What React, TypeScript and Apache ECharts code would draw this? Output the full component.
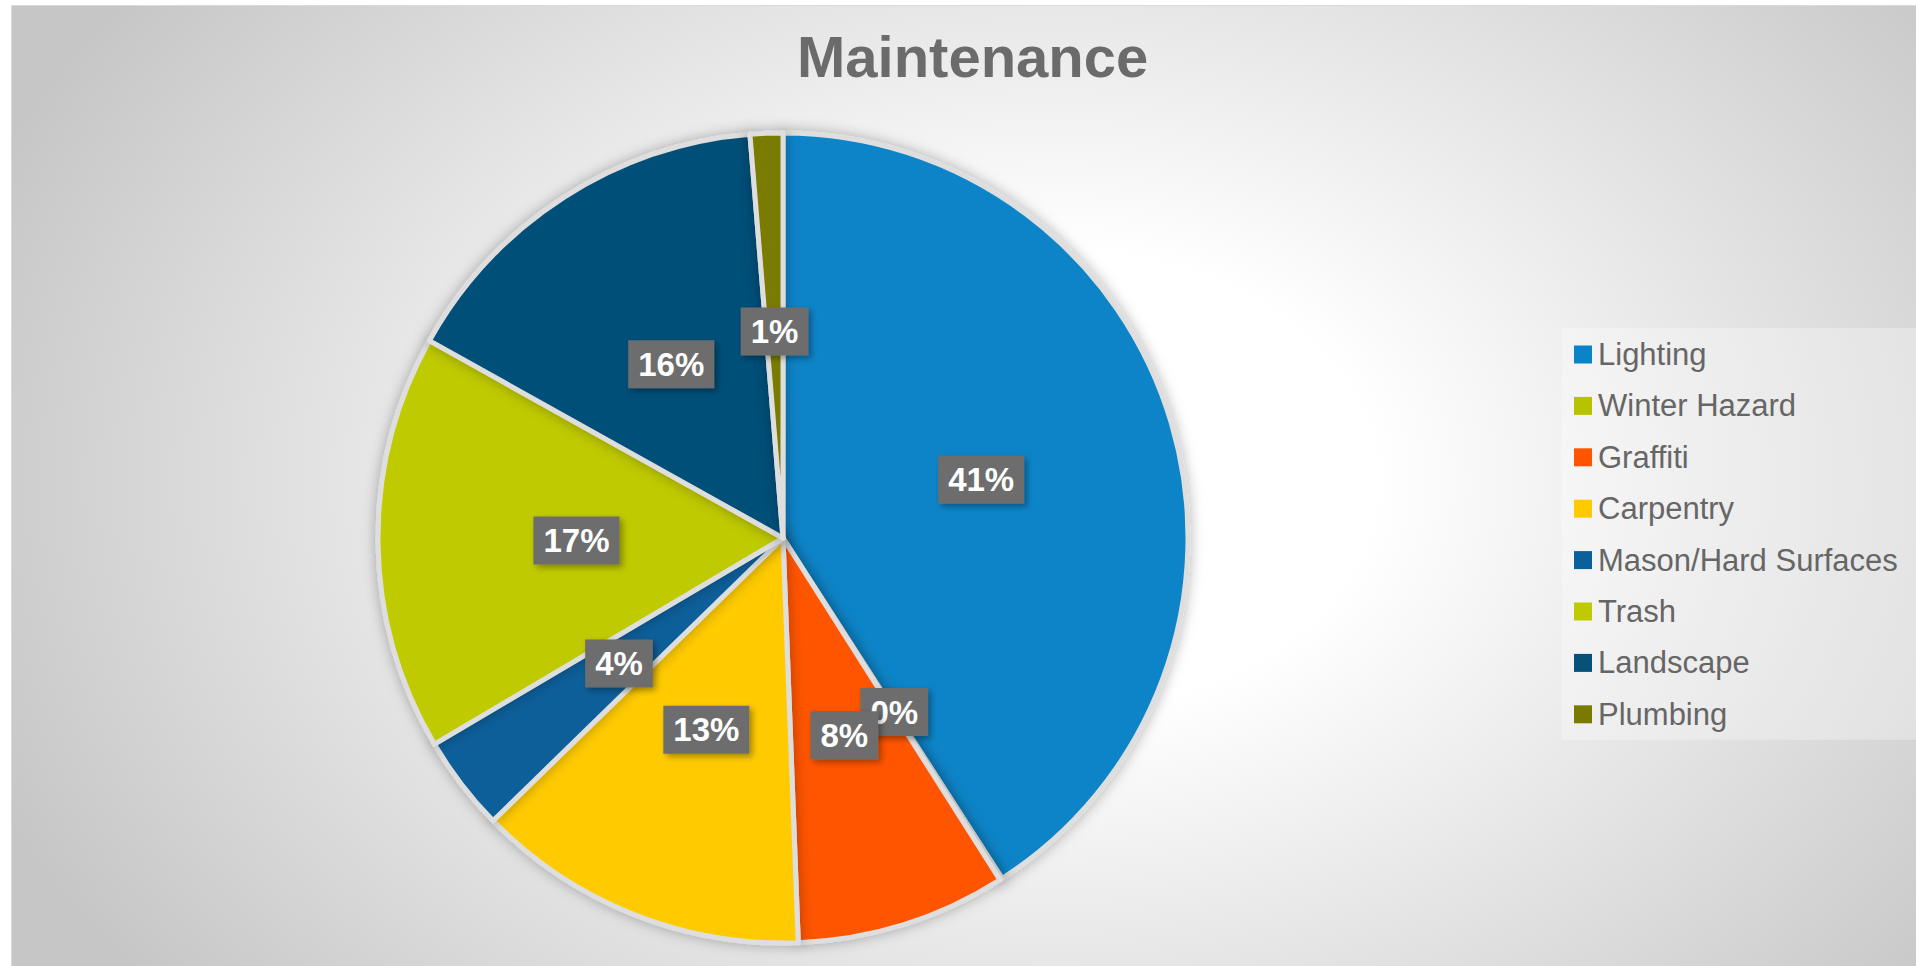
import React, { useEffect, useRef } from 'react';
import * as echarts from 'echarts';

const categories = ['Lighting', 'Winter Hazard', 'Graffiti', 'Carpentry', 'Mason/Hard Surfaces', 'Trash', 'Landscape', 'Plumbing'];
const shares = [40.9, 0.1, 8.4, 13.3, 3.8, 16.6, 15.6, 1.3];
const sliceColors = ['#0984c8', '#b9c200', '#ff5500', '#ffcb00', '#0b5f9a', '#c0ca00', '#065079', '#797b00'];
const titleText = 'Maintenance';

const FONT = "'Liberation Sans', Arial, sans-serif";
const CENTER = [783, 538];
const RADIUS = 405;

export default function App() {
  const ref = useRef<HTMLDivElement>(null);

  useEffect(() => {
    if (!ref.current) return;
    const chart = echarts.init(ref.current, undefined, { renderer: 'svg' });
    const total = shares.reduce((a, b) => a + b, 0);
    const pieData = categories.map((name, i) => ({
      name,
      value: shares[i],
      itemStyle: { color: sliceColors[i] },
    }));
    // label anchors: middle of each slice, in the same angular scale as the pie
    let cum = 0;
    const labelData = shares.map((v, i) => {
      const mid = cum + v / 2;
      cum += v;
      return { name: categories[i], value: [0.51, mid], pct: Math.round((v / total) * 100) };
    });
    chart.setOption({
      animation: false,
      title: {
        text: titleText,
        left: 797,
        top: 27,
        padding: 0,
        textStyle: { fontFamily: FONT, fontSize: 58, fontWeight: 'bold', color: '#6b6b6b' },
      },
      legend: {
        orient: 'vertical',
        left: 1562,
        top: 328,
        padding: [11, 400, 10, 12],
        backgroundColor: 'rgba(255,255,255,0.3)',
        icon: 'rect',
        itemWidth: 18,
        itemHeight: 18,
        itemGap: 20.4,
        itemStyle: { borderWidth: 0, shadowBlur: 0 },
        textStyle: { fontFamily: FONT, fontSize: 31, lineHeight: 31, color: '#666666', padding: [0, 0, 0, 1] },
        data: categories,
      },
      polar: { center: CENTER, radius: RADIUS },
      angleAxis: { type: 'value', min: 0, max: total, startAngle: 90, clockwise: true, show: false },
      radiusAxis: { type: 'value', min: 0, max: 1, show: false },
      series: [
        {
          type: 'pie',
          center: CENTER,
          radius: [0, RADIUS],
          startAngle: 90,
          clockwise: true,
          z: 1,
          itemStyle: {
            borderColor: '#dedede',
            borderWidth: 5,
            shadowBlur: 14,
            shadowColor: 'rgba(0,0,0,0.3)',
          },
          label: { show: false },
          labelLine: { show: false },
          emphasis: { disabled: true },
          data: pieData,
        },
        {
          type: 'scatter',
          name: 'labels',
          coordinateSystem: 'polar',
          z: 3,
          symbol: 'circle',
          symbolSize: 2,
          itemStyle: { color: 'rgba(0,0,0,0)', opacity: 1 },
          silent: true,
          legendHoverLink: false,
          label: {
            show: true,
            position: 'inside',
            formatter: (p: any) => `${p.data.pct}%`,
            fontFamily: FONT,
            fontSize: 33,
            lineHeight: 36,
            fontWeight: 'bold',
            color: '#ffffff',
            opacity: 1,
            backgroundColor: '#6d6d6d',
            padding: [6, 10],
            shadowBlur: 6,
            shadowOffsetX: 3,
            shadowOffsetY: 3,
            shadowColor: 'rgba(0,0,0,0.35)',
          },
          emphasis: { disabled: true },
          data: labelData,
        },
      ],
    });
    return () => chart.dispose();
  }, []);

  return (
    <div style={{ position: 'fixed', left: 0, top: 0, width: 1916, height: 966, overflow: 'hidden', background: '#ffffff' }}>
      <div
        style={{
          position: 'absolute',
          left: 11,
          top: 5,
          right: 0,
          bottom: 0,
          borderLeft: '1px solid #dadada',
          borderTop: '1px solid #dadada',
          background:
            'radial-gradient(ellipse 1150px 820px at 1040px 475px, #ffffff 0%, #ffffff 28%, #c6c6c6 100%)',
        }}
      />
      <div ref={ref} style={{ position: 'absolute', left: 0, top: 0, width: 1916, height: 966 }} />
    </div>
  );
}
